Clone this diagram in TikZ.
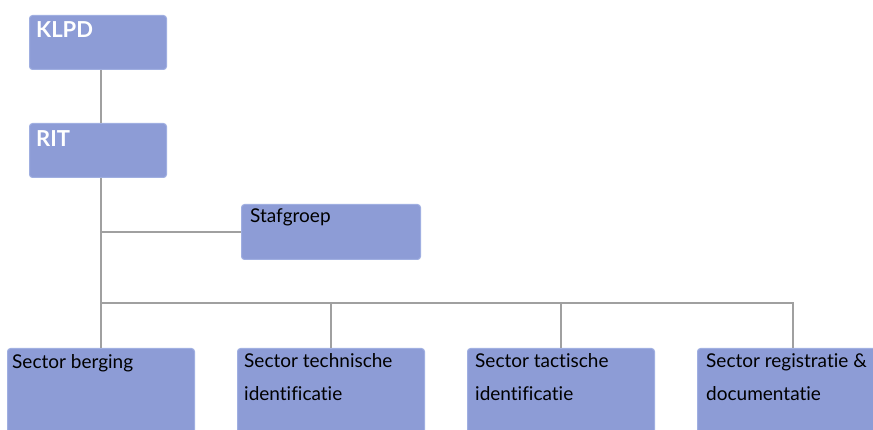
\documentclass[tikz,border=0pt]{standalone}
\usepackage{fontspec}
\setmainfont[Ligatures={NoCommon}]{Lato}
\begin{document}
\begin{tikzpicture}[x=1pt,y=-1pt,
  box/.style={draw=boxedge,line width=1pt,fill=boxfill,rounded corners=3pt,inner sep=0pt,anchor=north west},
  conn/.style={draw=linegray,line width=2pt},
  toplbl/.style={anchor=base west,inner sep=0pt,text=white,font=\fontsize{22}{26}\selectfont\bfseries},
  lbl/.style={anchor=base west,inner sep=0pt,text=black,font=\fontsize{19}{33}\selectfont,align=left}]
\definecolor{boxfill}{RGB}{141,156,214}
\definecolor{boxedge}{RGB}{160,175,225}
\definecolor{linegray}{RGB}{160,160,160}
\useasboundingbox (0,0) rectangle (873,430);
\clip (0,0) rectangle (873,430);
% boxes
\node[box,minimum width=137pt,minimum height=54pt] (klpd) at (29,15) {};
\node[box,minimum width=137pt,minimum height=54pt] (rit) at (29,123) {};
\node[box,minimum width=179pt,minimum height=55pt] (staf) at (241,204) {};
\node[box,minimum width=187pt,minimum height=110pt] (berg) at (7,348) {};
\node[box,minimum width=187pt,minimum height=110pt] (tech) at (237,348) {};
\node[box,minimum width=187pt,minimum height=110pt] (tact) at (467,348) {};
\node[box,minimum width=190pt,minimum height=110pt] (reg) at (697,348) {};
\coordinate (bus) at (100,303);
% connectors
\draw[conn] (klpd.south -| berg.north) -- (rit.north -| berg.north);
\draw[conn] (rit.south -| berg.north) -- (berg.north);
\draw[conn] (berg.north |- staf.west) -- (staf.west);
\draw[conn] (bus) -| (reg.north);
\draw[conn] (tech.north |- bus) -- (tech.north);
\draw[conn] (tact.north |- bus) -- (tact.north);
% labels
\node[toplbl] (tklpd) at (36,38) {KLPD};
\node[toplbl] (trit) at (36,147) {RIT};
\node[lbl] (tstaf) at (250,223) {Stafgroep};
\node[lbl] (tberg) at (12,369) {Sector berging};
\node[lbl] (ttech) at (244,400) {Sector technische\\identificatie};
\node[lbl] (ttact) at (475,400) {Sector tactische\\identificatie};
\node[lbl] (treg) at (706,400) {Sector registratie \&\\documentatie};
\end{tikzpicture}
\end{document}
